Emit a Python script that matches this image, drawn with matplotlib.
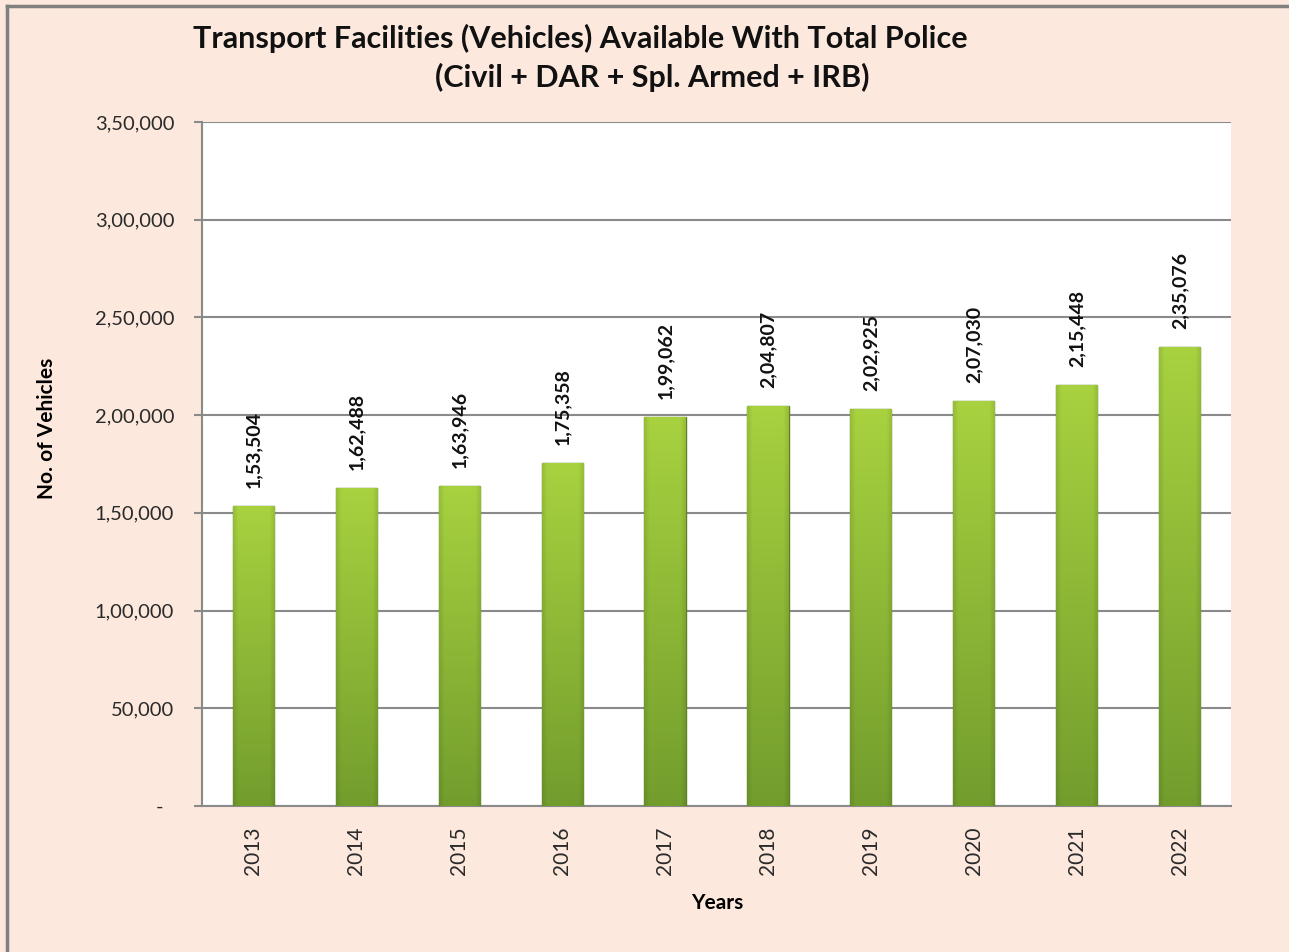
import matplotlib
matplotlib.use("Agg")
import matplotlib.pyplot as plt
import numpy as np
from matplotlib.colors import to_rgb
from matplotlib.lines import Line2D

years = ["2013", "2014", "2015", "2016", "2017", "2018", "2019", "2020", "2021", "2022"]
vehicles = [153504, 162488, 163946, 175358, 199062, 204807, 202925, 207030, 215448, 235076]
ytick_values = [0, 50000, 100000, 150000, 200000, 250000, 300000, 350000]


def indian_fmt(v):
    v = int(round(v))
    if v == 0:
        return "-  "
    s = str(v)
    if len(s) <= 3:
        return s
    last3 = s[-3:]
    rest = s[:-3]
    parts = []
    while len(rest) > 2:
        parts.insert(0, rest[-2:])
        rest = rest[:-2]
    if rest:
        parts.insert(0, rest)
    return ",".join(parts) + "," + last3


plt.rcParams['font.family'] = ['Lato', 'DejaVu Sans']

bg = "#FCE8DC"
fig = plt.figure(figsize=(12.89, 9.52), dpi=100, facecolor=bg)
ax = fig.add_axes([202 / 1289, 1 - 806 / 952, (1231 - 202) / 1289, (806 - 122) / 952])
ax.set_facecolor("white")

x = np.arange(len(years))
bars = ax.bar(x, vehicles, width=0.4, color="#92BE3E", edgecolor="#5F7F22", linewidth=1.0, zorder=3)

# gradient image: bottom darker olive, top bright yellow-green, darker sides
bottom_c = np.array(to_rgb("#729D2D"))
top_c = np.array(to_rgb("#A8D23F"))
ny, nx = 256, 64
t = np.linspace(0, 1, ny).reshape(-1, 1, 1)
col = bottom_c * (1 - t) + top_c * t
xs = np.linspace(-1, 1, nx).reshape(1, -1, 1)
side = 1 - 0.10 * np.clip((np.abs(xs) - 0.75) / 0.25, 0, 1)
img = np.clip(col * side, 0, 1)

for b in bars:
    bx, by = b.get_x(), b.get_y()
    bw, bh = b.get_width(), b.get_height()
    im = ax.imshow(img, extent=(bx, bx + bw, by, by + bh), origin="lower",
                   aspect="auto", zorder=3.5, interpolation="bilinear")
    im.set_clip_path(b)

ax.set_xlim(-0.5, len(years) - 0.5)
ax.set_ylim(0, 350000)
ax.set_yticks(ytick_values)
ax.set_yticklabels([indian_fmt(v) for v in ytick_values], fontsize=14.5, color="#2a2a2a")
ax.set_xticks(x)
ax.set_xticklabels(years, rotation=90, fontsize=15, color="#2a2a2a")

ax.yaxis.grid(True, color="#8a8a8a", linewidth=1.5, zorder=1)
ax.set_axisbelow(True)
for s in ["top", "right"]:
    ax.spines[s].set_visible(False)
ax.spines["left"].set_color("#8a8a8a")
ax.spines["left"].set_linewidth(1.5)
ax.spines["bottom"].set_color("#8a8a8a")
ax.spines["bottom"].set_linewidth(1.5)
ax.tick_params(axis="y", length=6, width=1.5, color="#8a8a8a", pad=14)
ax.tick_params(axis="x", length=0, pad=15)

for xi, v in zip(x, vehicles):
    ax.annotate(indian_fmt(v), (xi, v), xytext=(0, 13), textcoords="offset points",
                rotation=90, ha="center", va="bottom", fontsize=14, fontweight="bold",
                color="#111111", zorder=5)

ax.set_xlabel("Years", fontsize=15, fontweight="bold")
fig.text(47 / 1289, 1 - 428 / 952, "No. of Vehicles", rotation=90, ha="center", va="center",
         fontsize=15, fontweight="bold")
ax.xaxis.set_label_coords((717 - 202) / (1231 - 202), -(893 - 806) / (806 - 122))

fig.text(580 / 1289, 1 - 38 / 952, "Transport Facilities (Vehicles) Available With Total Police",
         ha="center", va="center", fontsize=22, fontweight="bold", color="#111111")
fig.text(652 / 1289, 1 - 77 / 952, "(Civil + DAR + Spl. Armed + IRB)",
         ha="center", va="center", fontsize=22, fontweight="bold", color="#111111")

fig.add_artist(Line2D([7 / 1289, 1], [1 - 6 / 952, 1 - 6 / 952], color="#808080", linewidth=2.5,
                      transform=fig.transFigure))
fig.add_artist(Line2D([7 / 1289, 7 / 1289], [0, 1 - 6 / 952], color="#808080", linewidth=2.5,
                      transform=fig.transFigure))

fig.savefig("out.png", dpi=100, facecolor=bg)
